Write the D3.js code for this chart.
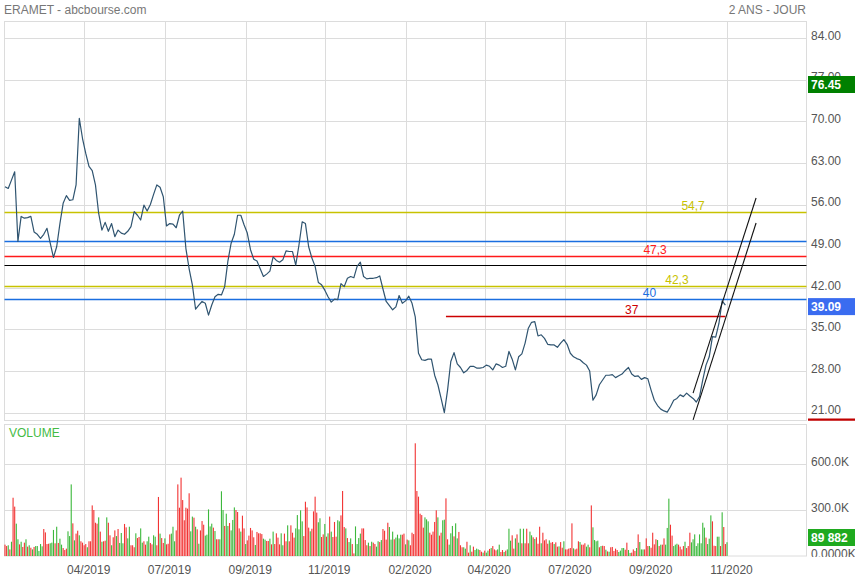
<!DOCTYPE html>
<html><head><meta charset="utf-8">
<script src="https://cdn.jsdelivr.net/npm/d3@7"></script>
<style>
body{margin:0;background:#fff}
svg{display:block;font-family:"Liberation Sans",Arial,sans-serif}
</style>
</head><body>
<svg id="c" width="855" height="579"></svg>
<script>
// ---------------- DATA ----------------
const title = "ERAMET - abcbourse.com";
const period = "2 ANS - JOUR";
const priceTicks = [21, 28, 35, 42, 49, 56, 63, 70, 77, 84];
const volumeTicks = [0, 300, 600]; // thousands
const xTickIndex = [49, 99, 149, 198, 248, 297, 347, 397, 447];
const xTickLabels = ["04/2019","07/2019","09/2019","11/2019","02/2020","04/2020","07/2020","09/2020","11/2020"];

// closing prices, one value every 2 trading days
const closes = [
59.0,58.7,60.1,61.5,49.8,54.0,53.7,53.8,54.0,51.4,
51.0,50.3,51.0,52.0,49.5,47.1,48.9,52.8,56.2,57.5,
56.7,56.8,59.3,70.5,67.1,64.6,62.4,61.7,59.3,54.5,
51.7,53.0,51.5,52.8,50.6,51.7,51.2,51.0,51.5,52.3,
54.8,54.2,53.4,55.9,54.9,56.0,57.7,59.3,58.9,57.3,
52.4,52.8,52.7,52.1,54.2,54.9,48.6,45.2,42.5,38.4,
39.1,39.7,39.4,37.4,39.1,40.5,40.9,40.8,42.2,46.5,
49.5,51.0,54.2,54.2,52.6,51.2,48.4,46.8,46.5,45.2,
43.9,44.3,44.8,47.2,46.6,46.3,46.7,48.2,48.1,48.1,
45.8,49.2,53.1,52.8,48.9,47.0,45.6,42.9,42.5,41.6,
40.5,39.6,40.1,40.0,42.7,42.2,43.6,43.9,43.7,45.6,
46.3,43.9,43.5,43.6,43.6,43.7,44.0,41.8,39.7,39.0,
38.3,38.8,40.7,39.4,39.8,40.6,39.4,37.1,31.0,29.9,
29.8,30.0,30.0,27.3,25.7,23.4,21.0,24.8,29.6,31.1,
29.2,28.6,27.7,28.1,28.8,28.8,28.5,28.5,28.6,29.0,
28.8,28.2,29.2,29.0,28.6,28.8,31.3,30.0,28.2,30.4,
30.9,32.7,35.2,36.2,36.3,33.9,34.1,33.5,32.5,32.4,
32.4,32.0,32.7,33.3,32.5,31.0,30.4,30.1,29.9,29.4,
29.0,28.0,23.1,24.0,25.7,26.5,27.3,27.3,27.4,26.9,
27.2,27.5,28.1,28.6,27.5,27.1,27.2,26.6,26.9,26.7,
24.8,23.1,22.2,21.6,21.3,21.1,22.0,23.1,23.4,24.0,
23.7,24.3,23.8,23.4,22.8,23.7,26.5,29.0,30.4,33.8,
33.7,36.0,39.8,39.09
];
const closeStep = 2;

// daily volume in thousands
const volumeK = [
74,65,70,43,93,380,322,211,109,76,
93,59,87,109,61,70,54,43,59,65,
65,33,78,63,176,154,78,80,83,87,
170,83,191,85,113,74,52,39,48,161,
130,467,213,102,146,165,135,96,87,70,
78,57,96,96,330,300,217,211,252,159,
93,96,100,252,217,135,70,122,167,130,
176,85,150,83,209,187,115,191,70,70,
57,148,117,124,180,87,96,74,96,126,
85,76,135,126,70,385,146,117,85,115,
76,80,141,146,191,96,167,467,315,511,
365,233,315,309,409,161,257,250,191,174,
80,167,228,204,133,139,304,193,211,185,
163,109,109,109,422,300,196,276,196,215,
167,235,317,300,287,180,159,263,180,78,
102,133,183,167,122,72,157,148,148,143,
113,107,98,98,113,76,159,78,148,120,
76,
148,70,146,96,200,96,200,152,120,180,
267,174,298,226,130,354,317,185,161,178,
291,387,283,220,246,124,141,209,126,148,
257,159,124,222,126,233,226,265,424,189,
180,117,91,115,78,17,193,78,117,146,
180,180,104,70,87,65,93,87,78,61,
96,91,104,176,165,107,217,189,107,159,
109,120,139,115,139,139,146,76,107,102,
70,152,143,735,424,387,276,267,185,252,
239,226,152,139,159,222,298,252,133,152,
233,237,376,109,74,148,196,128,213,115,
157,70,57,57,48,93,22,70,28,61,
39,48,43,39,28,22,35,22,35,46,
52,65,43,37,43,74,26,39,26,35,
43,178,100,135,48,115,141,87,178,83,
178,83,178,83,159,135,122,111,122,80,
191,83,152,102,109,80,102,87,91,78,
89,61,63,91,54,
96,43,43,48,52,213,50,43,48,96,
91,74,74,83,61,74,57,330,187,104,
96,100,57,65,67,65,41,30,28,57,
59,33,48,39,26,35,52,52,41,87,
39,20,22,43,33,52,141,91,43,43,
43,115,65,65,54,152,76,109,104,65,
74,74,115,74,183,374,204,133,65,74,
80,74,61,43,65,93,52,65,152,89,
109,141,65,83,141,83,217,185,120,78,
113,265,226,67,65,126,126,65,285,189,
78,89.882
];
// g = up day, r = down day
const volumeDir =
"rrgrgrrggr"+"grrgrgrgrg"+"ggggrrrrgg"+"grgrggrrrg"+"ggrgrrgrrr"+
"rgrrrrrrgr"+"grrgrrgrrg"+"rgggrrggrr"+"rgrrggrrgg"+"rrggrrgrrg"+
"rrrgggrrrr"+"rrrrrggrgr"+"grrrgggggr"+"grrgggrggr"+"gggrrrgrrg"+
"rrrrrgrrrr"+"ggrrgrgrrr"+"r"+
"ggrrgrrrrg"+"ggggrrrrgr"+"rrrggrrgrg"+"rgrrrggrrr"+"grggrrgggg"+
"rrrrgrgrrg"+"grgrrrrggg"+"rggggrrgrg"+"rrrrrrrrrg"+"ggrrrrrgrr"+
"ggrrgggrgg"+"rrrggrrgrr"+"gggrrgrggr"+"grrrggrrgr"+"gggrrgrggr"+
"grrrggrgrr"+"rgrrrrgrrg"+"rrgrr"+
"grrrrrgrrr"+"grrrggrrgg"+"ggrgrrgrgr"+"rrrrggggrr"+"ggrrrgrggg"+
"rrrgrrrrgr"+"grrgggrrgg"+"grrrrgrrrg"+"ggggggggrg"+"ggrrrggrgr"+
"rg";

// horizontal support / resistance levels
const levels      = [54.7, 49.9, 47.3, 45.8, 42.3, 40.1, 37.2];
const levelLabels = ["54,7", "", "47,3", "", "42,3", "40", "37"];
const levelRange  = [null, null, null, null, null, null, [273, 446]];
const levelLabelAt = [426, null, 402.5, null, 416, 399, 388];
const levelColors = ["#c8c200", "#1a6ee0", "#ff1a1a", "#000000", "#c8c200", "#1a6ee0", "#cc0000"];
const levelWidths = [1.3, 1.4, 1.3, 1.2, 1.3, 1.4, 1.3];

// trend channel lines: [index, price] pairs
const trendLines = [
  [[426, 24.3], [465, 57.1]],
  [[426, 19.8], [465, 52.9]]
];
const markerValue = 76.45;

// ---------------- LAYOUT ----------------
const svg = d3.select("#c");
const L = 4.5, R = 806.5;
const mainTop = 21.5, mainBot = 420.5;
const volTop = 424.5, volBot = 556;

const x = d3.scaleLinear().domain([0, volumeK.length - 1]).range([5, 727]);
const y = d3.scaleLinear().domain([21, 84]).range([412.7, 38]);
const yv = d3.scaleLinear().domain([0, 600]).range([volBot, 464]);

const grid = "#dcdcdc";

// header
svg.append("text").attr("x", 4).attr("y", 14).attr("font-size", 12).attr("fill", "#777").text(title);
svg.append("text").attr("x", 806).attr("y", 14).attr("font-size", 12).attr("fill", "#777")
  .attr("text-anchor", "end").text(period);

// panels
svg.append("rect").attr("x", L).attr("y", mainTop).attr("width", R - L).attr("height", mainBot - mainTop)
  .attr("fill", "none").attr("stroke", grid);
svg.append("rect").attr("x", L).attr("y", volTop).attr("width", R - L).attr("height", volBot - volTop)
  .attr("fill", "none").attr("stroke", grid);

// horizontal gridlines
svg.append("g").selectAll("line").data(priceTicks).join("line")
  .attr("x1", L).attr("x2", R)
  .attr("y1", d => Math.round(y(d)) + 0.5).attr("y2", d => Math.round(y(d)) + 0.5)
  .attr("stroke", grid);
svg.append("g").selectAll("line").data(volumeTicks.filter(d => d > 0)).join("line")
  .attr("x1", L).attr("x2", R)
  .attr("y1", d => Math.round(yv(d)) + 0.5).attr("y2", d => Math.round(yv(d)) + 0.5)
  .attr("stroke", grid);

// vertical gridlines
const vg = svg.append("g");
vg.selectAll("line.m").data(xTickIndex).join("line").attr("class", "m")
  .attr("x1", d => Math.round(x(d)) + 0.5).attr("x2", d => Math.round(x(d)) + 0.5)
  .attr("y1", mainTop).attr("y2", mainBot).attr("stroke", grid);
vg.selectAll("line.v").data(xTickIndex).join("line").attr("class", "v")
  .attr("x1", d => Math.round(x(d)) + 0.5).attr("x2", d => Math.round(x(d)) + 0.5)
  .attr("y1", volTop).attr("y2", volBot).attr("stroke", grid);

// level lines
const lv = svg.append("g");
levels.forEach((v, i) => {
  const yy = Math.round(y(v)) + 0.5;
  const x1 = levelRange[i] ? x(levelRange[i][0]) : L;
  const x2 = levelRange[i] ? x(levelRange[i][1]) : R;
  lv.append("line").attr("x1", x1).attr("x2", x2).attr("y1", yy).attr("y2", yy)
    .attr("stroke", levelColors[i]).attr("stroke-width", levelWidths[i]);
  if (levelLabels[i]) {
    lv.append("text").attr("x", x(levelLabelAt[i])).attr("y", yy - 2.5)
      .attr("text-anchor", "middle").attr("font-size", 12).attr("fill", levelColors[i])
      .text(levelLabels[i]);
  }
});

// price line
const line = d3.line().x((d, i) => x(i * closeStep)).y(d => y(d));
svg.append("path").datum(closes).attr("d", line)
  .attr("fill", "none").attr("stroke", "#2f5470").attr("stroke-width", 1.2)
  .attr("stroke-linejoin", "round");

// trend lines
svg.append("g").selectAll("line").data(trendLines).join("line")
  .attr("x1", d => x(d[0][0])).attr("y1", d => y(d[0][1]))
  .attr("x2", d => x(d[1][0])).attr("y2", d => y(d[1][1]))
  .attr("stroke", "#111").attr("stroke-width", 1.1);

// volume bars
svg.append("g").selectAll("rect").data(volumeK).join("rect")
  .attr("x", (d, i) => x(i) - 0.55).attr("width", 1.1)
  .attr("y", d => yv(d)).attr("height", d => volBot - yv(d))
  .attr("fill", (d, i) => volumeDir[i] === "g" ? "#3cb83c" : "#f23434");

// VOLUME label
svg.append("text").attr("x", 9).attr("y", 437).attr("font-size", 12).attr("fill", "#44bb44").text("VOLUME");

// right price axis
const ax = svg.append("g").attr("transform", `translate(${R},0)`)
  .call(d3.axisRight(y).tickValues(priceTicks).tickFormat(d3.format(".2f")).tickSize(0).tickPadding(4.5));
ax.select(".domain").remove();
ax.selectAll("text").attr("font-size", 12).attr("fill", "#555").attr("font-family", null)
  .attr("dy", null).attr("y", 1.2);

// right volume axis (clipped at panel bottom)
svg.append("clipPath").attr("id", "vclip").append("rect")
  .attr("x", 806).attr("y", 424).attr("width", 60).attr("height", 133);
const av = svg.append("g").attr("clip-path", "url(#vclip)").append("g")
  .attr("transform", `translate(${R},0)`)
  .call(d3.axisRight(yv).tickValues(volumeTicks).tickFormat(d => d === 0 ? "0.0000K" : d3.format(".1f")(d) + "K")
    .tickSize(0).tickPadding(4.5));
av.select(".domain").remove();
av.selectAll("text").attr("font-size", 12).attr("fill", "#555").attr("font-family", null)
  .attr("dy", null).attr("y", 1.7);

// bottom axis
const bx = svg.append("g").attr("transform", `translate(0,${volBot})`)
  .call(d3.axisBottom(x).tickValues(xTickIndex).tickFormat((d, i) => xTickLabels[i]).tickSize(0).tickPadding(0));
bx.select(".domain").remove();
bx.selectAll("text").attr("font-size", 12).attr("fill", "#555").attr("font-family", null)
  .attr("dy", null).attr("y", 17.5).attr("dx", 4);

// value boxes
function box(yc, color, label) {
  svg.append("rect").attr("x", 808).attr("y", yc - 8.5).attr("width", 47).attr("height", 17).attr("fill", color);
  svg.append("text").attr("x", 811).attr("y", yc + 4.3).attr("font-size", 12).attr("font-weight", "bold")
    .attr("fill", "#fff").text(label);
}
box(84.5, "#008000", d3.format(".2f")(markerValue));
const lastClose = closes[closes.length - 1];
box(y(lastClose) + 1.5, "#3a6cf0", d3.format(".2f")(lastClose));
const lastVol = volumeK[volumeK.length - 1] * 1000;
box(537.5, "#1faa1f", d3.format(",")(Math.round(lastVol)).replace(/,/g, " "));

// red marker at bottom of price axis
svg.append("line").attr("x1", 808).attr("x2", 855).attr("y1", 419.7).attr("y2", 419.7)
  .attr("stroke", "#c00000").attr("stroke-width", 2.2);
</script>
</body></html>
